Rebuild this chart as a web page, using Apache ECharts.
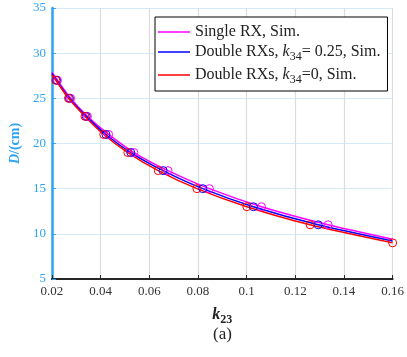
<!DOCTYPE html>
<html>
<head>
<meta charset="utf-8">
<script src="https://cdn.jsdelivr.net/npm/echarts@6/dist/echarts.min.js"></script>
<style>html,body{margin:0;padding:0;background:#fff}#c{width:407px;height:357px}</style>
</head>
<body>
<div id="c"></div>
<script>
// Data
var seriesNames = ['Single RX, Sim.', 'Double RXs, k34= 0.25, Sim.', 'Double RXs, k34=0, Sim.'];
var markerD = [27, 25, 23, 21, 19, 17, 15, 13, 11];
var singleK = [0.0223, 0.0277, 0.0346, 0.0433, 0.0537, 0.0677, 0.0847, 0.1061, 0.1335];
var double25K = [0.0219, 0.0272, 0.0341, 0.0422, 0.0524, 0.0657, 0.0820, 0.1028, 0.1294];
var double0K = [0.0216, 0.0268, 0.0336, 0.0413, 0.0512, 0.0637, 0.0796, 0.1001, 0.1261];
// line ends at the axis limits
var startD = [27.9, 27.75, 27.6];   // D at k23 = 0.02
var endD = [9.4, 9.2, 9.0];         // D at k23 = 0.16
var endMarker = [false, false, true];
var xTicks = [0.02, 0.16, 0.02];    // min, max, interval
var yTicks = [5, 35, 5];
var colors = ['#ff00ff', '#0000ff', '#ff0000'];

var kArrays = [singleK, double25K, double0K];
function buildData(i) {
  var d = [{value: [xTicks[0], startD[i]], symbol: 'none'}];
  for (var j = 0; j < markerD.length; j++) d.push([kArrays[i][j], markerD[j]]);
  d.push(endMarker[i] ? [xTicks[1], endD[i]] : {value: [xTicks[1], endD[i]], symbol: 'none'});
  return d;
}
var blue = '#2ea3f2';
var serif = 'Liberation Serif';
var series = seriesNames.map(function (n, i) {
  return {
    name: n, type: 'line', data: buildData(i), smooth: 0.25,
    symbol: 'circle', symbolSize: 8,
    lineStyle: {color: colors[i], width: 1.5},
    itemStyle: {color: 'transparent', borderColor: colors[i], borderWidth: 1},
    emphasis: {disabled: true}, animation: false
  };
});
var legendRich = {
  n: {fontFamily: serif, fontSize: 16, color: '#222', lineHeight: 18},
  k: {fontFamily: serif, fontSize: 16, fontStyle: 'italic', color: '#222', lineHeight: 18},
  s: {fontFamily: serif, fontSize: 12, color: '#222', padding: [10, 0, 0, 0]}
};
var chart = echarts.init(document.getElementById('c'), null, {renderer: 'canvas'});
chart.setOption({
  animation: false,
  title: {text: '(a)', left: 208, top: 321, textStyle: {fontFamily: serif, fontSize: 17, fontWeight: 'normal', color: '#222'}},
  grid: {left: 43, right: 11, top: 8, bottom: 78, containLabel: false},
  legend: {
    orient: 'vertical', left: 155, top: 17, padding: [7, 7, 5, 3], itemGap: 4,
    itemWidth: 32, itemHeight: 1.5, icon: 'rect',
    backgroundColor: '#fff', borderColor: '#000', borderWidth: 1, borderRadius: 0,
    data: seriesNames.map(function (n, i) {
      return {name: n, itemStyle: {color: colors[i], borderWidth: 0}, lineStyle: {color: colors[i], width: 1.5}};
    }),
    textStyle: {rich: legendRich},
    formatter: function (name) {
      if (name === seriesNames[0]) return '{n|Single RX, Sim.}';
      if (name === seriesNames[1]) return '{n|Double RXs, }{k|k}{s|34}{n|= 0.25, Sim.}';
      return '{n|Double RXs, }{k|k}{s|34}{n|=0, Sim.}';
    }
  },
  xAxis: {
    type: 'value', min: xTicks[0], max: xTicks[1], interval: xTicks[2],
    name: '{k|k}{s|23}', nameLocation: 'middle', nameGap: 25,
    nameTextStyle: {rich: {
      k: {fontFamily: serif, fontSize: 16, fontWeight: 'bold', fontStyle: 'italic', color: '#222'},
      s: {fontFamily: serif, fontSize: 12, fontWeight: 'bold', color: '#222', padding: [10, 0, 0, 0]}
    }},
    axisLine: {lineStyle: {color: '#262626', width: 2}},
    axisTick: {inside: true, length: 4, lineStyle: {color: '#262626', width: 1}},
    splitLine: {show: true, lineStyle: {color: '#dcdcdc', width: 1.2}},
    axisLabel: {color: '#333', fontFamily: serif, fontSize: 13, margin: 6}
  },
  yAxis: {
    type: 'value', min: yTicks[0], max: yTicks[1], interval: yTicks[2],
    name: '{i|D}{b|/(cm)}', nameLocation: 'middle', nameGap: 26, nameRotate: 90,
    nameTextStyle: {rich: {
      i: {fontFamily: serif, fontSize: 14, fontWeight: 'bold', fontStyle: 'italic', color: blue},
      b: {fontFamily: serif, fontSize: 14, fontWeight: 'bold', color: blue}
    }},
    axisLine: {lineStyle: {color: blue, width: 2.5}},
    axisTick: {inside: true, length: 4, lineStyle: {color: blue, width: 1}},
    splitLine: {show: true, lineStyle: {color: '#d4ecfa', width: 1.2}},
    axisLabel: {color: blue, fontFamily: serif, fontSize: 13, margin: 6}
  },
  series: series
});
</script>
</body>
</html>
